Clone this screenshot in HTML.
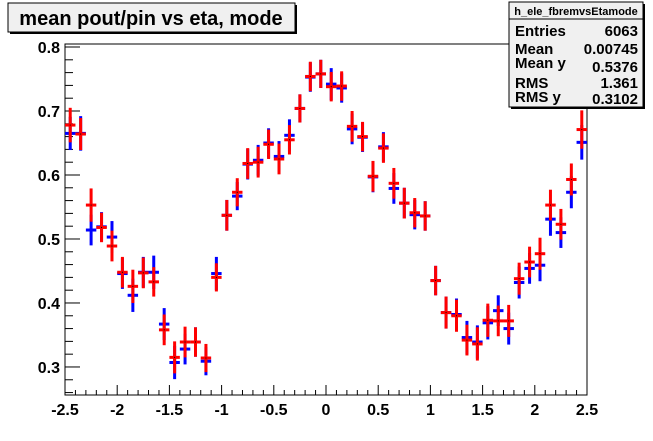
<!DOCTYPE html>
<html><head><meta charset="utf-8"><style>
body{margin:0;background:#fff;}
svg{display:block;font-family:"Liberation Sans",Arial,sans-serif;font-weight:bold;}
</style></head><body>
<svg id="c" width="653" height="441" viewBox="0 0 653 441" xmlns="http://www.w3.org/2000/svg">
<rect x="0" y="0" width="653" height="441" fill="#fff"/>
<g>
<rect x="10" y="5" width="287" height="29" fill="#000"/>
<rect x="8" y="3" width="287" height="29" fill="#f0f0f0" stroke="#000" stroke-width="1"/>
<text x="151" y="25" font-size="20" text-anchor="middle">mean pout/pin vs eta, mode</text>
</g>
<rect x="65" y="44" width="522" height="351" fill="none" stroke="#000" stroke-width="1"/>
<g id="axes"></g>
<g id="blue"></g>
<g id="red"></g>
<g>
<rect x="511" y="4" width="134" height="105" fill="#000"/>
<rect x="509" y="2" width="134" height="105" fill="#f0f0f0" stroke="#000" stroke-width="1"/>
<line x1="509" y1="19" x2="643" y2="19" stroke="#000"/>
<text x="576" y="15" font-size="11" text-anchor="middle">h_ele_fbremvsEtamode</text>
<g font-size="15">
<text x="515" y="36">Entries</text><text x="638" y="36" text-anchor="end">6063</text>
<text x="515" y="54">Mean</text><text x="638" y="54" text-anchor="end">0.00745</text>
<text x="515" y="68">Mean y</text><text x="638" y="72" text-anchor="end">0.5376</text>
<text x="515" y="88">RMS</text><text x="638" y="88" text-anchor="end">1.361</text>
<text x="515" y="102">RMS y</text><text x="638" y="104" text-anchor="end">0.3102</text>
</g>
</g>
</svg>
<script>
const xMin=-2.5, xMax=2.5, yMin=0.2562, yMax=0.8047;
const binWidth=0.1;
const xTicks=[-2.5,-2,-1.5,-1,-0.5,0,0.5,1,1.5,2,2.5];
const xTickLabels=["-2.5","-2","-1.5","-1","-0.5","0","0.5","1","1.5","2","2.5"];
const yTicks=[0.3,0.4,0.5,0.6,0.7,0.8];
const yTickLabels=["0.3","0.4","0.5","0.6","0.7","0.8"];
const redValues=[0.678,0.664,0.553,0.518,0.489,0.448,0.426,0.447,0.433,0.358,0.315,0.339,0.339,0.314,0.440,0.537,0.573,0.618,0.620,0.648,0.625,0.655,0.704,0.754,0.758,0.738,0.739,0.676,0.660,0.598,0.642,0.587,0.556,0.541,0.536,0.435,0.385,0.380,0.342,0.336,0.373,0.372,0.372,0.438,0.464,0.477,0.553,0.523,0.593,0.671];
const redErrors=[0.027,0.025,0.026,0.023,0.024,0.024,0.026,0.024,0.023,0.024,0.025,0.024,0.023,0.022,0.022,0.024,0.022,0.024,0.024,0.023,0.024,0.023,0.022,0.023,0.022,0.023,0.023,0.024,0.023,0.024,0.023,0.024,0.024,0.023,0.023,0.023,0.025,0.025,0.024,0.026,0.026,0.024,0.025,0.025,0.024,0.025,0.024,0.024,0.025,0.030];
const blueValues=[0.665,0.665,0.514,0.519,0.503,0.446,0.412,0.448,0.448,0.367,0.307,0.328,0.339,0.309,0.446,0.537,0.567,0.617,0.623,0.650,0.629,0.662,0.704,0.753,0.758,0.742,0.736,0.672,0.659,0.597,0.644,0.579,0.556,0.538,0.536,0.435,0.385,0.382,0.346,0.339,0.369,0.388,0.360,0.432,0.454,0.459,0.531,0.510,0.573,0.651];
const blueErrors=[0.026,0.027,0.024,0.023,0.025,0.024,0.026,0.024,0.026,0.025,0.026,0.024,0.023,0.022,0.026,0.024,0.022,0.024,0.024,0.023,0.024,0.025,0.022,0.023,0.022,0.025,0.023,0.024,0.023,0.024,0.023,0.024,0.024,0.023,0.023,0.023,0.025,0.025,0.026,0.026,0.026,0.024,0.025,0.025,0.024,0.025,0.026,0.024,0.025,0.027];
const L=65,R=587,T=44,B=395;
const sx=v=>L+(v-xMin)/(xMax-xMin)*(R-L);
const sy=v=>B-(v-yMin)/(yMax-yMin)*(B-T);
const NS="http://www.w3.org/2000/svg";
function mk(tag,attrs,parent){const e=document.createElementNS(NS,tag);for(const k in attrs)e.setAttribute(k,attrs[k]);parent.appendChild(e);return e;}
const ax=document.getElementById('axes');
for(let i=0;i<=50;i++){const v=xMin+i*binWidth;const major=(i%5===0);const x=sx(v);
 const t=mk('line',{x1:x,x2:x,y1:B,y2:B-(major?10:5),stroke:'#000'},ax);
 
 }
xTicks.forEach((v,i)=>{const t=mk('text',{x:sx(v),y:415,'font-size':16,'text-anchor':'middle'},ax);t.textContent=xTickLabels[i];
 
 });
for(let i=0;;i++){const v=0.26+i*0.02;if(v>yMax)break;const major=Math.abs(Math.round(v*10)-v*10)<1e-6;const y=sy(v);
 const t=mk('line',{x1:L,x2:L+(major?15:8),y1:y,y2:y,stroke:'#000'},ax);
 
 }
yTicks.forEach((v,i)=>{const t=mk('text',{x:60,y:sy(v)+6,'font-size':16,'text-anchor':'end'},ax);t.textContent=yTickLabels[i];
 
 });
function draw(gid,vals,errs,color){const g=document.getElementById(gid);
 vals.forEach((v,i)=>{const c=xMin+(i+0.5)*binWidth;const x=sx(c);const y=sy(v);
  const pg=mk('g',{},g);
  
  
  mk('line',{x1:sx(c-binWidth/2),x2:sx(c+binWidth/2),y1:y,y2:y,stroke:color,'stroke-width':3},pg);
  mk('line',{x1:x,x2:x,y1:sy(v+errs[i]),y2:sy(v-errs[i]),stroke:color,'stroke-width':3},pg);
  if(gid==='red')mk('rect',{x:x-0.5,y:y-0.5,width:1,height:1,fill:'#000'},pg);
 });}
draw('blue',blueValues,blueErrors,'#0000ff');
draw('red',redValues,redErrors,'#ff0000');
</script>
</body></html>
